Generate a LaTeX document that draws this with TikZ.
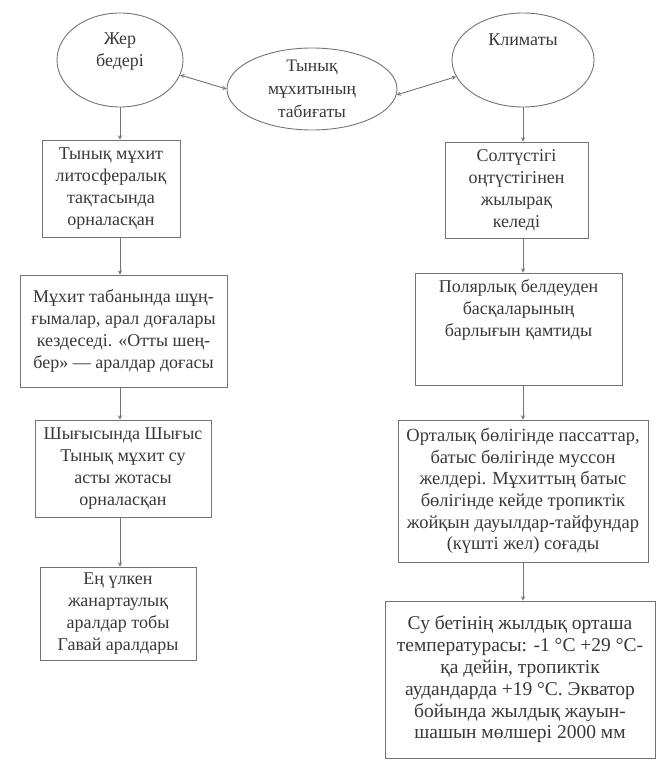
\documentclass[tikz,border=0pt]{standalone}
\usepackage{fontspec}
\setmainfont{Liberation Serif}
\newfontfamily\kazfont{Liberation Serif}
\usetikzlibrary{shapes.geometric}

\begin{document}
\begin{tikzpicture}[x=1pt,y=-1pt,>=stealth,
    box/.style={draw=black!55,line width=0.9pt,align=center,inner sep=0pt,text=black!78,font=\kazfont\fontsize{18}{22}\selectfont},
    oval/.style={ellipse,draw=black!55,line width=0.9pt,align=center,inner sep=0pt,text=black!78,font=\kazfont\fontsize{18}{22}\selectfont},
    arr/.style={draw=black!55,line width=0.9pt,->}]
    \useasboundingbox (0,0) rectangle (656,762);

    \node[oval,minimum width=126pt,minimum height=94pt,text depth=21pt] (jer) at (120,60) {Жер\\бедері};
    \node[oval,minimum width=170pt,minimum height=82pt,font=\kazfont\fontsize{17.5}{23}\selectfont] (tabig) at (312,89) {Тынық\\мұхитының\\табиғаты};
    \node[oval,minimum width=142pt,minimum height=94pt,text depth=40pt] (klim) at (523,60) {Климаты};

    \draw[arr,<->] (jer.-14) -- (tabig.180);
    \draw[arr,<->] (tabig.-4) -- (klim.194);

    \node[box,minimum width=138pt,minimum height=97pt] (l1) at (111,188.5) {Тынық мұхит\\литосфералық\\тақтасында\\орналасқан};
    \node[box,minimum width=207pt,minimum height=112pt] (l2) at (123.5,331) {Мұхит табанында шұң-\\ғымалар, арал доғалары\\кездеседі. «Отты шең-\\бер» — аралдар доғасы};
    \node[box,minimum width=176pt,minimum height=97pt] (l3) at (123,468.5) {Шығысында Шығыс\\Тынық мұхит су\\асты жотасы\\орналасқан};
    \node[box,minimum width=156pt,minimum height=93pt] (l4) at (118,613.5) {Ең үлкен\\жанартаулық\\аралдар тобы\\Гавай аралдары};

    \node[box,minimum width=143pt,minimum height=96pt] (r1) at (516.5,190) {Солтүстігі\\оңтүстігінен\\жылырақ\\келеді};
    \node[box,minimum width=207pt,minimum height=112pt,text depth=42pt] (r2) at (518.5,329) {Полярлық белдеуден\\басқаларының\\барлығын қамтиды};
    \node[box,minimum width=250pt,minimum height=142pt,font=\kazfont\fontsize{18.5}{21.6}\selectfont] (r3) at (523,491) {Орталық бөлігінде пассаттар,\\батыс бөлігінде муссон\\желдері. Мұхиттың батыс\\бөлігінде кейде тропиктік\\жойқын дауылдар-тайфундар\\(күшті жел) соғады};
    \node[box,minimum width=270pt,minimum height=157pt,font=\kazfont\fontsize{19.5}{21.8}\selectfont] (r4) at (520,679.5) {Су бетінің жылдық орташа\\температурасы: -1 °С +29 °С-\\қа дейін, тропиктік\\аудандарда +19 °С. Экватор\\бойында жылдық жауын-\\шашын мөлшері 2000 мм};

    \draw[arr] (jer.south) -- (l1.north -| jer);
    \draw[arr] (l1.south -| jer) -- (l2.north -| jer);
    \draw[arr] (l2.south -| jer) -- (l3.north -| jer);
    \draw[arr] (l3.south -| jer) -- (l4.north -| jer);

    \draw[arr] (klim.south) -- (r1.north -| klim);
    \draw[arr] (r1.south -| klim) -- (r2.north -| klim);
    \draw[arr] (r2.south -| klim) -- (r3.north -| klim);
    \draw[arr] (r3.south -| klim) -- (r4.north -| klim);
\end{tikzpicture}
\end{document}
